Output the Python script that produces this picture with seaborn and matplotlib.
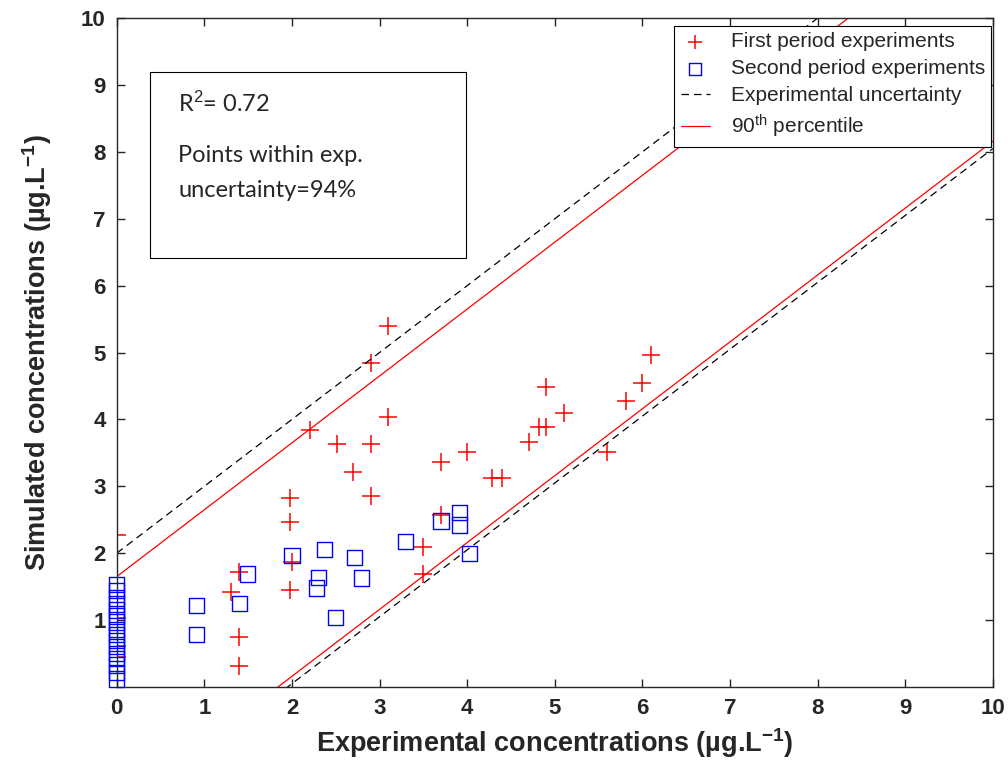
import numpy as np
import pandas as pd
import seaborn as sns
import matplotlib.pyplot as plt
from matplotlib.patches import Rectangle

# first period experiments (red +)
first_x = [0, 0, 0, 0, 1.3, 1.4, 1.4, 1.4, 1.98, 1.98, 1.98, 2.0, 2.2, 2.51, 2.7, 2.9, 2.9, 2.9,
           3.1, 3.1, 3.5, 3.5, 3.7, 3.7, 4.0, 4.28, 4.4, 4.7, 4.82, 4.9, 4.9, 5.11, 5.6,
           5.81, 6.0, 6.1]
first_y = [2.27, 1.03, 0.61, 0.45, 1.42, 1.72, 0.75, 0.31, 2.82, 2.46, 1.45, 1.87, 3.84, 3.63,
           3.21, 3.63, 2.85, 4.85, 5.40, 4.04, 2.09, 1.69, 3.37, 2.57, 3.51, 3.13, 3.13, 3.66,
           3.88, 3.88, 4.48, 4.10, 3.51, 4.28, 4.54, 4.96]

# second period experiments (blue squares)
second_x = [0] * 16 + [0.91, 0.91, 1.40, 1.49, 2.0, 2.37, 2.30, 2.28, 2.71, 2.79, 2.50,
                       3.30, 3.70, 3.91, 3.91, 4.03]
second_y = [1.53, 1.44, 1.33, 1.24, 1.15, 1.06, 0.97, 0.86, 0.79, 0.70, 0.60, 0.50, 0.42,
            0.33, 0.22, 0.12,
            1.22, 0.78, 1.25, 1.69, 1.97, 2.06, 1.64, 1.48, 1.93, 1.63, 1.04,
            2.18, 2.48, 2.61, 2.42, 2.00]

# reference lines
line_x = [0, 10]
unc_upper = [2.0, 12.0]
unc_lower = [-1.95, 8.05]
p90_upper = [1.65, 11.65]
p90_lower = [-1.84, 8.16]

sns.set_style("ticks")
plt.rcParams['font.family'] = ['Liberation Sans', 'DejaVu Sans']
plt.rcParams['mathtext.fontset'] = 'custom'
plt.rcParams['mathtext.rm'] = 'Liberation Sans'
plt.rcParams['mathtext.it'] = 'Liberation Sans'
plt.rcParams['mathtext.bf'] = 'Liberation Sans:bold'

fig = plt.figure(figsize=(10.08, 7.64), dpi=100)
ax = fig.add_axes([0.1158, 0.1008, 0.8693, 0.8756])

sns.lineplot(x=line_x, y=unc_upper, ax=ax, color='black', lw=0.9, linestyle=(0, (6, 4)),
             label='Experimental uncertainty')
sns.lineplot(x=line_x, y=unc_lower, ax=ax, color='black', lw=0.9, linestyle=(0, (6, 4)))
sns.lineplot(x=line_x, y=p90_upper, ax=ax, color='red', lw=0.9,
             label='90$^{\\mathrm{th}}$ percentile')
sns.lineplot(x=line_x, y=p90_lower, ax=ax, color='red', lw=0.9)

sns.scatterplot(x=first_x, y=first_y, ax=ax, marker='+', s=180, color='red', linewidth=1.1,
                label='First period experiments')
sns.scatterplot(x=second_x, y=second_y, ax=ax, marker='s', s=120, facecolors='none',
                edgecolors='blue', linewidth=1.0, clip_on=False, zorder=5,
                label='Second period experiments')

ax.set_xlim(0, 10)
ax.set_ylim(0, 10)
ax.set_xticks(range(0, 11))
ax.set_yticks(range(1, 11))
ax.tick_params(direction='in', top=True, right=True, length=6, width=1, labelsize=16, pad=8)
for lab in ax.get_xticklabels() + ax.get_yticklabels():
    lab.set_fontweight('bold')
for sp in ax.spines.values():
    sp.set_linewidth(1.0)

ax.set_xlabel('Experimental concentrations (µg.L$^{\\mathbf{-1}}$)', fontsize=19.5,
              fontweight='bold', labelpad=5)
ax.set_ylabel('Simulated concentrations (µg.L$^{\\mathbf{-1}}$)', fontsize=19.5,
              fontweight='bold', labelpad=19)

# legend in MATLAB order
h, l = ax.get_legend_handles_labels()
order = ['First period experiments', 'Second period experiments',
         'Experimental uncertainty', '90$^{\\mathrm{th}}$ percentile']
hd = dict(zip(l, h))
leg = ax.legend([hd[k] for k in order], order, loc='upper right',
                bbox_to_anchor=(0.998, 0.988), fontsize=15,
                frameon=True, fancybox=False, edgecolor='black', framealpha=1,
                handlelength=1.4, handletextpad=1.0, markerscale=0.8,
                borderaxespad=0, borderpad=0.3, labelspacing=0.38)
leg.get_frame().set_linewidth(0.8)

# annotation box
ax.add_patch(Rectangle((0.038, 0.641), 0.3606, 0.278, transform=ax.transAxes,
                       fill=False, edgecolor='black', lw=0.8, zorder=6))
ax.text(0.070, 0.872, 'R$^2$= 0.72', transform=ax.transAxes, fontsize=17,
        family='Lato', va='center', ha='left')
ax.text(0.070, 0.795, 'Points within exp.', transform=ax.transAxes, fontsize=17,
        family='Lato', va='center', ha='left')
ax.text(0.070, 0.742, 'uncertainty=94%', transform=ax.transAxes, fontsize=17,
        family='Lato', va='center', ha='left')

fig.savefig('out.png', dpi=100)
